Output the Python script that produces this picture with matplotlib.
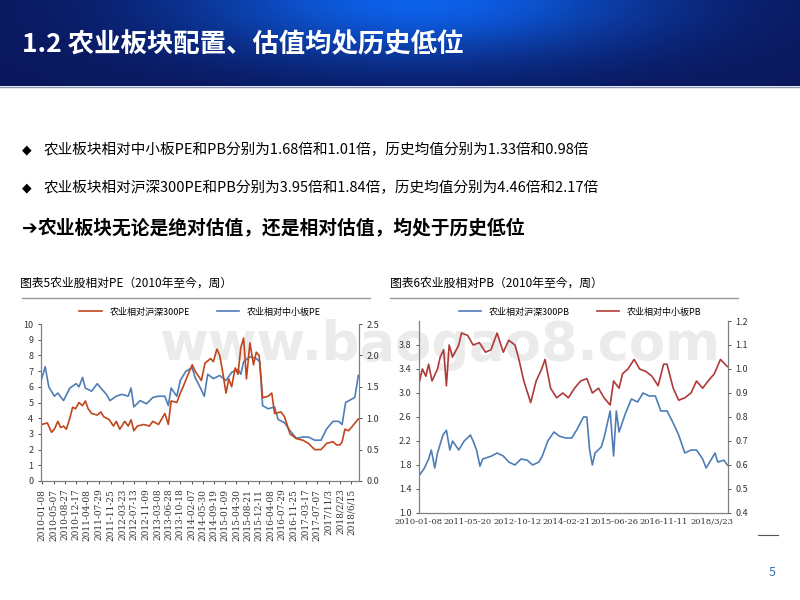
import numpy as np
import pandas as pd
import matplotlib
matplotlib.use("Agg")
import matplotlib.pyplot as plt
from matplotlib import font_manager

cjk = [f.name for f in font_manager.fontManager.ttflist if "CJK" in f.name]
plt.rcParams["font.family"] = sorted(set(cjk), key=lambda n: ("SC" not in n, n))[:1] + ["DejaVu Sans"]

# ---- data ----
pe_hs300_dates = ["2010-01-08", "2010-03-05", "2010-04-16", "2010-05-14", "2010-06-18", "2010-07-16", "2010-08-13",
                  "2010-09-10", "2010-10-15", "2010-11-12", "2010-12-10", "2011-01-14", "2011-02-18", "2011-03-18",
                  "2011-04-15", "2011-05-20", "2011-07-15", "2011-08-19", "2011-09-16", "2011-11-11", "2011-12-23",
                  "2012-01-20", "2012-02-24", "2012-04-13", "2012-05-18", "2012-06-15", "2012-07-13", "2012-08-17",
                  "2012-10-19", "2012-12-14", "2013-01-18", "2013-03-15", "2013-05-17", "2013-06-21", "2013-07-19",
                  "2013-09-13", "2013-10-18", "2013-11-15", "2014-01-17", "2014-02-14", "2014-03-14", "2014-05-16",
                  "2014-06-20", "2014-08-15", "2014-09-12", "2014-10-17", "2014-11-14", "2014-12-12", "2015-01-16",
                  "2015-02-13", "2015-03-13", "2015-04-17", "2015-05-15", "2015-06-12", "2015-07-10", "2015-08-07",
                  "2015-09-11", "2015-10-16", "2015-11-13", "2015-12-11", "2016-01-15", "2016-03-11", "2016-04-15",
                  "2016-05-13", "2016-07-15", "2016-08-19", "2016-10-14", "2016-12-16", "2017-02-17", "2017-04-14",
                  "2017-06-16", "2017-08-18", "2017-10-13", "2017-12-15", "2018-01-19", "2018-02-23", "2018-03-16",
                  "2018-04-13", "2018-05-18", "2018-06-15", "2018-08-24"]
pe_hs300 = [3.6, 3.7, 3.1, 3.3, 3.8, 3.4, 3.5, 3.3, 4.0, 4.7, 4.6, 5.0, 4.8, 5.1, 4.6, 4.3, 4.2, 4.4, 4.1, 3.9, 3.5,
            3.8, 3.3, 3.8, 3.5, 3.9, 3.2, 3.5, 3.6, 3.5, 3.8, 3.6, 4.3, 3.6, 5.1, 5.0, 5.6, 6.0, 7.0, 7.4, 7.0, 6.4,
            7.5, 7.8, 7.6, 8.4, 8.0, 7.0, 5.6, 6.5, 6.0, 7.2, 6.8, 8.5, 9.1, 6.5, 8.8, 7.4, 8.2, 8.0, 5.3, 5.4, 5.6,
            4.3, 4.4, 4.1, 3.0, 2.7, 2.6, 2.4, 2.0, 2.0, 2.4, 2.5, 2.3, 2.3, 2.5, 3.3, 3.2, 3.4, 3.95]

pe_sme_dates = ["2010-01-08", "2010-02-12", "2010-03-19", "2010-05-14", "2010-06-18", "2010-08-13", "2010-10-15",
                "2010-12-17", "2011-01-14", "2011-02-18", "2011-03-18", "2011-05-20", "2011-07-15", "2011-08-19",
                "2011-10-14", "2011-11-18", "2012-01-20", "2012-03-16", "2012-05-18", "2012-06-15", "2012-07-13",
                "2012-09-14", "2012-11-16", "2013-01-18", "2013-03-15", "2013-05-17", "2013-06-21", "2013-07-19",
                "2013-09-13", "2013-10-18", "2013-12-13", "2014-02-14", "2014-03-14", "2014-05-16", "2014-06-13",
                "2014-07-18", "2014-09-12", "2014-11-14", "2015-01-16", "2015-03-13", "2015-05-15", "2015-06-12",
                "2015-07-10", "2015-09-11", "2015-11-13", "2015-12-18", "2016-01-15", "2016-03-11", "2016-05-13",
                "2016-06-17", "2016-08-19", "2016-10-14", "2016-12-16", "2017-02-17", "2017-04-14", "2017-06-16",
                "2017-08-18", "2017-10-13", "2017-12-15", "2018-02-09", "2018-03-16", "2018-04-20", "2018-06-15",
                "2018-07-20", "2018-08-24"]
pe_sme = [1.63, 1.82, 1.50, 1.35, 1.40, 1.28, 1.48, 1.55, 1.50, 1.65, 1.48, 1.43, 1.55, 1.48, 1.38, 1.28, 1.35,
          1.38, 1.35, 1.48, 1.18, 1.28, 1.23, 1.33, 1.35, 1.35, 1.20, 1.48, 1.35, 1.60, 1.75, 1.80, 1.65, 1.45,
          1.35, 1.70, 1.63, 1.68, 1.60, 1.73, 1.78, 1.70, 1.90, 1.98, 1.95, 1.90, 1.20, 1.15, 1.18, 0.98, 0.93,
          0.80, 0.68, 0.70, 0.70, 0.65, 0.65, 0.83, 0.95, 0.95, 0.90, 1.25, 1.30, 1.33, 1.68]

pb_hs300_dates = ["2010-01-08", "2010-03-05", "2010-04-16", "2010-05-14", "2010-06-18", "2010-07-16", "2010-09-10",
                  "2010-10-15", "2010-11-19", "2010-12-17", "2011-02-18", "2011-04-15", "2011-06-17", "2011-07-15",
                  "2011-08-19", "2011-09-23", "2011-10-21", "2012-01-20", "2012-03-16", "2012-05-18", "2012-07-13",
                  "2012-09-14", "2012-11-16", "2013-01-18", "2013-03-15", "2013-05-17", "2013-06-21", "2013-08-16",
                  "2013-10-18", "2013-12-13", "2014-02-14", "2014-04-18", "2014-06-13", "2014-08-15", "2014-09-19",
                  "2014-10-17", "2014-11-14", "2014-12-12", "2015-02-13", "2015-03-13", "2015-05-15", "2015-06-19",
                  "2015-07-17", "2015-08-14", "2015-10-16", "2015-12-18", "2016-02-19", "2016-04-15", "2016-06-17",
                  "2016-08-19", "2016-10-14", "2016-12-16", "2017-02-17", "2017-04-14", "2017-06-16", "2017-08-18",
                  "2017-10-13", "2017-12-15", "2018-01-19", "2018-03-16", "2018-04-20", "2018-05-18", "2018-07-20",
                  "2018-08-24"]
pb_hs300 = [1.62, 1.75, 1.9, 2.05, 1.75, 2.0, 2.3, 2.38, 2.05, 2.2, 2.05, 2.2, 2.3, 2.2, 2.05, 1.78, 1.9, 1.95,
            2.0, 1.95, 1.85, 1.8, 1.9, 1.88, 1.8, 1.85, 1.95, 2.2, 2.35, 2.28, 2.25, 2.25, 2.4, 2.6, 2.6, 2.05, 1.8,
            2.0, 2.1, 2.25, 2.7, 1.95, 2.7, 2.35, 2.65, 2.9, 2.85, 3.0, 2.95, 2.95, 2.7, 2.7, 2.5, 2.3, 2.0, 2.05,
            2.05, 1.9, 1.75, 1.9, 2.0, 1.85, 1.88, 1.8]

pb_sme_dates = ["2010-01-08", "2010-02-12", "2010-03-19", "2010-04-16", "2010-05-21", "2010-07-16", "2010-08-13",
                "2010-09-17", "2010-10-15", "2010-11-12", "2010-12-17", "2011-02-18", "2011-03-18", "2011-05-20",
                "2011-07-15", "2011-09-16", "2011-11-18", "2012-01-13", "2012-03-16", "2012-05-18", "2012-07-13",
                "2012-09-14", "2012-10-19", "2012-12-14", "2013-02-22", "2013-04-19", "2013-06-14", "2013-07-19",
                "2013-09-13", "2013-11-15", "2014-01-17", "2014-03-14", "2014-05-16", "2014-07-18", "2014-09-19",
                "2014-11-14", "2015-01-16", "2015-03-13", "2015-05-15", "2015-06-19", "2015-08-14", "2015-09-18",
                "2015-11-13", "2016-01-15", "2016-03-11", "2016-05-13", "2016-07-15", "2016-09-16", "2016-11-11",
                "2016-12-16", "2017-02-17", "2017-04-14", "2017-06-16", "2017-08-18", "2017-10-13", "2017-12-15",
                "2018-02-09", "2018-04-13", "2018-06-15", "2018-08-24"]
pb_sme = [0.94, 1.0, 0.97, 1.02, 0.95, 1.0, 1.05, 1.08, 0.93, 1.1, 1.05, 1.1, 1.15, 1.14, 1.1, 1.11, 1.07, 1.08,
          1.15, 1.07, 1.12, 1.1, 1.05, 0.95, 0.86, 0.95, 1.0, 1.04, 0.92, 0.88, 0.9, 0.88, 0.92, 0.95, 0.96, 0.9,
          0.92, 0.88, 0.85, 0.95, 0.92, 0.98, 1.0, 1.04, 1.0, 0.99, 0.97, 0.93, 1.02, 1.02, 0.92, 0.87, 0.88, 0.9,
          0.95, 0.92, 0.95, 0.98, 1.04, 1.01]

pe_tick_labels = ["2010-01-08", "2010-05-07", "2010-08-27", "2010-12-17", "2011-04-08", "2011-07-29", "2011-11-25",
                  "2012-03-23", "2012-07-13", "2012-11-09", "2013-03-08", "2013-06-28", "2013-10-18", "2014-02-07",
                  "2014-05-30", "2014-09-19", "2015-01-09", "2015-04-30", "2015-08-21", "2015-12-11", "2016-04-08",
                  "2016-07-29", "2016-11-25", "2017-03-17", "2017-07-07", "2017/11/3", "2018/2/23", "2018/6/15"]
pb_tick_labels = ["2010-01-08", "2011-05-20", "2012-10-12", "2014-02-21", "2015-06-26", "2016-11-11", "2018/3/23"]

bullets = ["农业板块相对中小板PE和PB分别为1.68倍和1.01倍，历史均值分别为1.33倍和0.98倍",
           "农业板块相对沪深300PE和PB分别为3.95倍和1.84倍，历史均值分别为4.46倍和2.17倍"]

RED = "#c0461b"
BLUE = "#4f7db5"
PB_RED = "#b03a3a"
W, H = 800, 600


def px_axes(fig, x0, y0, x1, y1):
    # pixel box (top-left origin) -> figure axes
    return fig.add_axes([x0 / W, 1 - y1 / H, (x1 - x0) / W, (y1 - y0) / H])


def style_axis(ax):
    ax.spines["top"].set_visible(False)
    for side in ["left", "right", "bottom"]:
        ax.spines[side].set_color("#7f7f7f")
        ax.spines[side].set_linewidth(0.8)
    ax.tick_params(labelsize=6.5, colors="#333333", length=2, width=0.6)


def to_dates(values):
    return pd.to_datetime(values, format="mixed")


fig = plt.figure(figsize=(8, 6), dpi=100)
fig.patch.set_facecolor("white")

# header band
hdr = px_axes(fig, 0, 0, W, 86)
xx, yy = np.meshgrid(np.linspace(-1, 1, 400), np.linspace(0, 1, 60))
glow = np.exp(-((xx - 0.05) ** 2) / 0.35 - (yy ** 2) / 0.5)
dark = np.array([0.04, 0.09, 0.36])
bright = np.array([0.05, 0.38, 0.92])
img = dark[None, None, :] + glow[..., None] * (bright - dark)[None, None, :]
hdr.imshow(img, aspect="auto", extent=[0, 1, 0, 1])
hdr.set_axis_off()
fig.add_artist(plt.Line2D([0, 1], [1 - 87 / H] * 2, color="#8a96b8", lw=1.0))
fig.text(22 / W, 1 - 45 / H, "1.2 农业板块配置、估值均处历史低位", color="white", fontsize=19,
         fontweight="bold", va="center")

for i, line in enumerate(bullets):
    y = [150, 188][i]
    fig.text(22 / W, 1 - y / H, "◆", fontsize=9, va="center", color="black", family="DejaVu Sans")
    fig.text(44 / W, 1 - y / H, line, fontsize=10.5, va="center", color="black")
fig.text(22 / W, 1 - 229 / H, "➔", fontsize=13.5, fontweight="bold", va="center", family="DejaVu Sans")
fig.text(38 / W, 1 - 229 / H, "农业板块无论是绝对估值，还是相对估值，均处于历史低位",
         fontsize=13.5, fontweight="bold", va="center")

fig.text(20 / W, 1 - 283 / H, "图表5农业股相对PE（2010年至今，周）", fontsize=8.5, va="center")
fig.text(390 / W, 1 - 283 / H, "图表6农业股相对PB（2010年至今，周）", fontsize=8.5, va="center")
fig.add_artist(plt.Line2D([22 / W, 370 / W], [1 - 298 / H] * 2, color="#999999", lw=1.0))
fig.add_artist(plt.Line2D([390 / W, 738 / W], [1 - 298 / H] * 2, color="#999999", lw=1.0))

# watermark (behind the charts)
fig.text(440 / W, 1 - 345 / H, "www.baogao8.com", fontsize=38, color="#ebebeb",
         ha="center", va="center", fontweight="bold", family="DejaVu Sans", zorder=-1)

# left chart: relative PE
ax1 = px_axes(fig, 41, 324, 359, 481)
ax1r = ax1.twinx()
ax1.plot(to_dates(pe_hs300_dates), pe_hs300, color=RED, lw=1.2, label="农业相对沪深300PE")
ax1r.plot(to_dates(pe_sme_dates), pe_sme, color=BLUE, lw=1.2, label="农业相对中小板PE")
ax1.set_ylim(0, 10)
ax1.set_yticks(range(0, 11))
ax1r.set_ylim(0, 2.5)
ax1r.set_yticks([0, 0.5, 1.0, 1.5, 2.0, 2.5])
ax1r.set_yticklabels(["0.0", "0.5", "1.0", "1.5", "2.0", "2.5"])
ax1.set_xlim(pd.Timestamp("2010-01-01"), pd.Timestamp("2018-08-31"))
ax1.set_xticks(to_dates(pe_tick_labels))
ax1.set_xticklabels(pe_tick_labels, rotation=90, fontsize=6.3, family="DejaVu Serif")
for a in (ax1, ax1r):
    style_axis(a)
    a.patch.set_visible(False)
ax1.set_zorder(ax1r.get_zorder() + 1)
h1, l1 = ax1.get_legend_handles_labels()
h2, l2 = ax1r.get_legend_handles_labels()
fig.legend(h1 + h2, l1 + l2, loc="center", bbox_to_anchor=(200 / W, 1 - 312 / H), ncol=2, frameon=False,
           fontsize=6.5, handlelength=2.5, columnspacing=3)

# right chart: relative PB
ax2 = px_axes(fig, 419, 321, 728, 513)
ax2r = ax2.twinx()
ax2.plot(to_dates(pb_hs300_dates), pb_hs300, color=BLUE, lw=1.2, label="农业相对沪深300PB")
ax2r.plot(to_dates(pb_sme_dates), pb_sme, color=PB_RED, lw=1.2, label="农业相对中小板PB")
ax2.set_ylim(1.0, 4.2)
ax2.set_yticks([1.0, 1.4, 1.8, 2.2, 2.6, 3.0, 3.4, 3.8])
ax2.set_yticklabels(["1.0", "1.4", "1.8", "2.2", "2.6", "3.0", "3.4", "3.8"])
ax2r.set_ylim(0.4, 1.2)
ax2r.set_yticks(np.arange(0.4, 1.21, 0.1))
ax2r.set_yticklabels(["0.4", "0.5", "0.6", "0.7", "0.8", "0.9", "1.0", "1.1", "1.2"])
ax2.set_xlim(pd.Timestamp("2010-01-08"), pd.Timestamp("2018-08-31"))
ax2.set_xticks(to_dates(pb_tick_labels))
ax2.set_xticklabels(pb_tick_labels, fontsize=6.0, family="DejaVu Serif")
for a in (ax2, ax2r):
    style_axis(a)
    a.patch.set_visible(False)
ax2.tick_params(axis="x", labelsize=6.0, length=0)
ax2.set_zorder(ax2r.get_zorder() + 1)
h1, l1 = ax2.get_legend_handles_labels()
h2, l2 = ax2r.get_legend_handles_labels()
fig.legend(h1 + h2, l1 + l2, loc="center", bbox_to_anchor=(580 / W, 1 - 312 / H), ncol=2, frameon=False,
           fontsize=6.5, handlelength=2.5, columnspacing=3)

fig.add_artist(plt.Line2D([758 / W, 778 / W], [1 - 535 / H] * 2, color="#555555", lw=0.8))
fig.text(772 / W, 1 - 572 / H, "5", fontsize=9, color="#3b6fb6", ha="center", va="center")

fig.savefig("out.png", dpi=100)
